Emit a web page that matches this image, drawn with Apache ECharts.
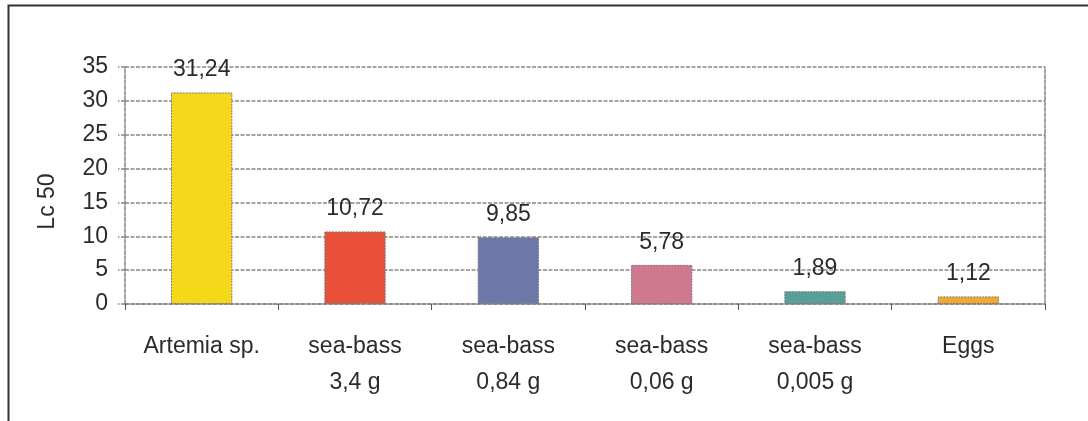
<!DOCTYPE html>
<html>
<head>
<meta charset="utf-8">
<script src="https://cdn.jsdelivr.net/npm/echarts@6/dist/echarts.min.js"></script>
<style>
  html, body { margin: 0; padding: 0; background: #fff; }
  #chart { width: 1088px; height: 421px; }
</style>
</head>
<body>
<div id="chart"></div>
<script>
// Lc 50 per test organism
const categories = ['Artemia sp.', 'sea-bass\n3,4 g', 'sea-bass\n0,84 g', 'sea-bass\n0,06 g', 'sea-bass\n0,005 g', 'Eggs'];
const lc50Values = [31.24, 10.72, 9.85, 5.78, 1.89, 1.12];
const valueLabels = ['31,24', '10,72', '9,85', '5,78', '1,89', '1,12'];
const barColors = ['#F6D81A', '#E8503A', '#6C78A8', '#D07890', '#5A9E98', '#F0A830'];
const yTicks = { min: 0, max: 35, interval: 5 };

const FONT = '"Liberation Sans", Arial, sans-serif';
const FONT_SIZE = 23;
const TEXT = '#2b2b2b';
const GRID_GREY = '#8a8585';
const dashed = { color: GRID_GREY, width: 1.5, type: [4, 1.5] };

const chart = echarts.init(document.getElementById('chart'), null, { renderer: 'canvas' });

chart.setOption({
  animation: false,
  backgroundColor: '#fff',
  textStyle: { fontFamily: FONT },
  grid: { left: 125, right: 43, top: 67, bottom: 117, containLabel: false },
  graphic: [{
    type: 'rect',
    left: 6, top: 3,
    shape: { width: 1200, height: 500 },
    style: { fill: 'none', stroke: '#333', lineWidth: 2 },
    silent: true
  }],
  xAxis: {
    type: 'category',
    data: categories,
    axisLine: { show: true, lineStyle: dashed },
    axisTick: { show: true, length: 6, lineStyle: { color: '#555', width: 1 } },
    axisLabel: {
      margin: 25,
      fontFamily: FONT,
      fontSize: FONT_SIZE,
      color: TEXT,
      lineHeight: 36,
      interval: 0
    },
    splitLine: { show: false }
  },
  yAxis: [{
    type: 'value',
    min: yTicks.min, max: yTicks.max, interval: yTicks.interval,
    name: 'Lc 50',
    nameLocation: 'middle',
    nameGap: 66,
    nameRotate: 90,
    nameTextStyle: { fontFamily: FONT, fontSize: FONT_SIZE, color: TEXT, padding: [0, 32, 0, 0] },
    axisLine: { show: true, lineStyle: dashed },
    axisTick: { show: true, length: 7, lineStyle: dashed },
    axisLabel: { margin: 17, fontFamily: FONT, fontSize: FONT_SIZE, color: TEXT },
    splitLine: { show: true, lineStyle: dashed }
  }, {
    type: 'value',
    position: 'right',
    min: yTicks.min, max: yTicks.max, interval: yTicks.interval,
    axisLine: { show: true, lineStyle: dashed },
    axisTick: { show: false },
    axisLabel: { show: false },
    splitLine: { show: false }
  }],
  series: [{
    type: 'bar',
    data: lc50Values.map((v, i) => ({
      value: v,
      itemStyle: { color: barColors[i] }
    })),
    barWidth: '40%',
    itemStyle: { borderColor: '#7d7878', borderWidth: 1, borderType: [2, 1] },
    label: {
      show: true,
      position: 'top',
      distance: 11,
      fontFamily: FONT,
      fontSize: FONT_SIZE,
      color: TEXT,
      formatter: p => valueLabels[p.dataIndex]
    }
  }]
});
</script>
</body>
</html>
